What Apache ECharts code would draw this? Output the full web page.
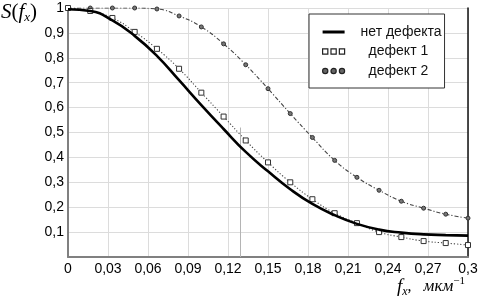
<!DOCTYPE html>
<html lang="ru">
<head>
    <meta charset="UTF-8">
    <title>S(fx)</title>
    <style type="text/css">
        * {
            margin: 0;
            padding: 0;
        }

        html, body {
            width: 100%;
            height: 100%;
            background: #fff;
        }

        #chart-panel {
            width: 479px;
            height: 303px;
        }
    </style>
</head>
<body>

<div id="chart-panel"></div>

<script src="https://cdn.jsdelivr.net/npm/echarts@6.0.0/dist/echarts.min.js"></script>
<script>

    // частоты (мкм^-1), шаг 0.3/18
    let fx = [0, 0.0167, 0.0333, 0.05, 0.0667, 0.0833, 0.1, 0.1167, 0.1333, 0.15,
        0.1667, 0.1833, 0.2, 0.2167, 0.2333, 0.25, 0.2667, 0.2833, 0.3];

    let noDefect = [0.995, 0.988, 0.95, 0.888, 0.808, 0.71, 0.61, 0.514, 0.422, 0.344,
        0.272, 0.213, 0.168, 0.133, 0.11, 0.098, 0.091, 0.088, 0.086];
    let defect1 = [1.0, 0.988, 0.96, 0.904, 0.836, 0.756, 0.66, 0.564, 0.468, 0.38,
        0.3, 0.232, 0.176, 0.136, 0.1, 0.08, 0.064, 0.056, 0.048];
    let defect2 = [1.0, 1.0, 1.0, 1.0, 0.996, 0.968, 0.924, 0.856, 0.772, 0.676,
        0.576, 0.48, 0.388, 0.32, 0.268, 0.224, 0.196, 0.172, 0.156];

    let seriesNames = ['нет дефекта', 'дефект 1', 'дефект 2'];
    let xTickLabels = ['0', '0,03', '0,06', '0,09', '0,12', '0,15', '0,18', '0,21', '0,24', '0,27', '0,3'];
    let yTickLabels = ['', '0,1', '0,2', '0,3', '0,4', '0,5', '0,6', '0,7', '0,8', '0,9', '1'];

    const pairs = (ys) => ys.map((v, i) => [fx[i], v]);

    const sans = 'Liberation Sans';
    const serif = 'Liberation Serif';

    var myChart = echarts.init(document.getElementById('chart-panel'));

    var option = {
        animation: false,
        backgroundColor: '#fff',
        grid: {
            left: 68,
            right: 11,
            top: 8,
            bottom: 46,
            containLabel: false,
            outerBoundsMode: 'none'
        },
        legend: {
            orient: 'vertical',
            left: 309,
            top: 14,
            padding: [11, 3, 10, 13],
            itemWidth: 22,
            itemHeight: 8,
            itemGap: 5.5,
            borderColor: '#333',
            borderWidth: 1,
            backgroundColor: '#fff',
            selectedMode: false,
            textStyle: {
                fontFamily: sans,
                fontSize: 14,
                lineHeight: 14,
                color: '#111',
                padding: [0, 0, 0, 11]
            },
            data: [{
                name: seriesNames[0],
                icon: 'path://M0,0H22V3H0Z',
                itemStyle: {color: '#000', borderWidth: 0}
            }, {
                name: seriesNames[1],
                icon: 'path://M0,0h5v5h-5z M8,0h5v5h-5z M16,0h5v5h-5z',
                itemStyle: {color: '#fff', borderColor: '#222', borderWidth: 1.2},
                textStyle: {padding: [0, 0, 0, 19]}
            }, {
                name: seriesNames[2],
                icon: 'path://M0,2.5a2.5,2.5 0 1,0 5,0a2.5,2.5 0 1,0 -5,0z M8,2.5a2.5,2.5 0 1,0 5,0a2.5,2.5 0 1,0 -5,0z M16,2.5a2.5,2.5 0 1,0 5,0a2.5,2.5 0 1,0 -5,0z',
                itemStyle: {color: '#666', borderColor: '#222', borderWidth: 1.2},
                textStyle: {padding: [0, 0, 0, 19]}
            }]
        },
        xAxis: {
            type: 'value',
            min: 0,
            max: 0.3,
            interval: 0.03,
            axisLine: {
                lineStyle: {color: '#808080', width: 2}
            },
            axisTick: {show: false},
            axisLabel: {
                margin: 5,
                fontFamily: sans,
                fontSize: 14,
                color: '#000',
                formatter: (value, index) => xTickLabels[index]
            },
            splitLine: {
                lineStyle: {color: '#dcdcdc', width: 1}
            }
        },
        yAxis: [{
            type: 'value',
            min: 0,
            max: 1,
            interval: 0.1,
            axisLine: {
                show: true,
                lineStyle: {color: '#808080', width: 2}
            },
            axisTick: {show: false},
            axisLabel: {
                margin: 4,
                fontFamily: sans,
                fontSize: 14,
                color: '#000',
                formatter: (value, index) => yTickLabels[index]
            },
            splitLine: {
                lineStyle: {color: '#dcdcdc', width: 1}
            }
        }, {
            // правая рамка
            type: 'value',
            position: 'right',
            min: 0,
            max: 1,
            axisLine: {
                show: true,
                lineStyle: {color: '#111', width: 1.5}
            },
            axisTick: {show: false},
            axisLabel: {show: false},
            splitLine: {show: false}
        }],
        graphic: [{
            type: 'text',
            left: 1,
            top: 2,
            style: {
                text: '{i|S}{n|(}{i|f}{s|x}{n|)}',
                rich: {
                    i: {fontFamily: serif, fontStyle: 'italic', fontSize: 21, lineHeight: 24, fill: '#000'},
                    n: {fontFamily: serif, fontSize: 21, lineHeight: 24, fill: '#000'},
                    s: {fontFamily: serif, fontStyle: 'italic', fontSize: 13, lineHeight: 13, verticalAlign: 'bottom', fill: '#000'}
                }
            }
        }, {
            type: 'text',
            left: 397,
            top: 276,
            style: {
                text: '{i|f}{s|x}{n|,   }{m|мкм}{p|−1}',
                rich: {
                    i: {fontFamily: serif, fontStyle: 'italic', fontSize: 19, lineHeight: 22, fill: '#000'},
                    s: {fontFamily: serif, fontStyle: 'italic', fontSize: 12, lineHeight: 11, verticalAlign: 'bottom', fill: '#000'},
                    n: {fontFamily: serif, fontSize: 16, lineHeight: 22, fill: '#000'},
                    m: {fontFamily: serif, fontStyle: 'italic', fontSize: 17, lineHeight: 20, fill: '#000'},
                    p: {fontFamily: serif, fontSize: 11, lineHeight: 10, verticalAlign: 'top', fill: '#000'}
                }
            }
        }],
        series: [{
            name: seriesNames[0],
            type: 'line',
            smooth: true,
            showSymbol: false,
            color: '#000',
            z: 5,
            lineStyle: {color: '#000', width: 2.6},
            data: pairs(noDefect),
            markLine: {
                silent: true,
                symbol: 'none',
                label: {show: false},
                lineStyle: {color: '#b4b4b4', width: 1, type: 'solid'},
                data: [[{coord: [0.129, 0]}, {coord: [0.129, 0.52]}]]
            }
        }, {
            name: seriesNames[1],
            type: 'line',
            smooth: true,
            symbol: 'rect',
            symbolSize: 5,
            color: '#333',
            z: 4,
            itemStyle: {color: '#fff', borderColor: '#333', borderWidth: 1},
            lineStyle: {color: '#444', width: 1.1, type: [1.2, 2]},
            data: pairs(defect1)
        }, {
            name: seriesNames[2],
            type: 'line',
            smooth: true,
            symbol: 'circle',
            symbolSize: 4,
            color: '#333',
            z: 3,
            itemStyle: {color: '#777', borderColor: '#333', borderWidth: 1},
            lineStyle: {color: '#444', width: 1.1, type: [4, 2, 1.2, 2]},
            data: pairs(defect2)
        }]
    };
    myChart.setOption(option);
</script>
</body>
</html>
